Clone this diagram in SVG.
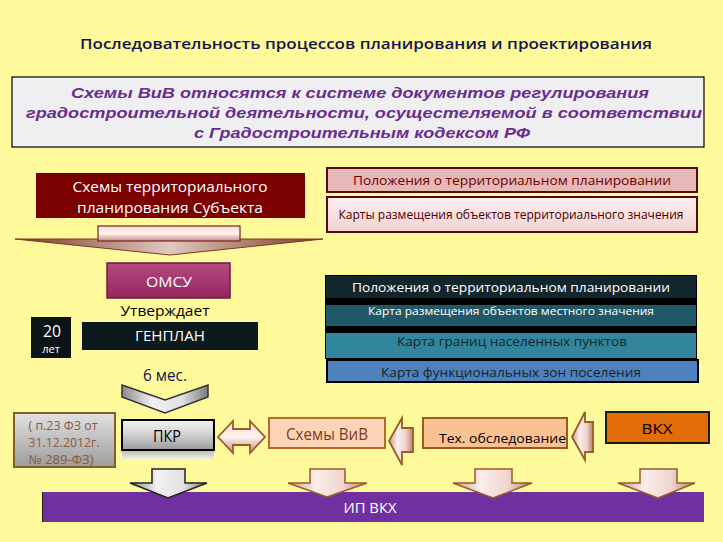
<svg xmlns="http://www.w3.org/2000/svg" width="723" height="542" viewBox="0 0 723 542">
<defs>
<style>
.t{font-family:"Open Sans","Noto Sans","Liberation Sans",sans-serif;}
.a{font-family:"Liberation Sans",Arial,sans-serif;}
.c{text-anchor:middle;}
.w{fill:#ffffff;}
</style>
<linearGradient id="gMetal" x1="0" y1="0" x2="0" y2="1">
<stop offset="0" stop-color="#f4f4f4"/><stop offset="0.5" stop-color="#d0d0d0"/><stop offset="1" stop-color="#9a9a9a"/>
</linearGradient>
<linearGradient id="gMetalH" x1="0" y1="0" x2="1" y2="0">
<stop offset="0" stop-color="#8a8a8a"/><stop offset="0.35" stop-color="#f2f2f2"/><stop offset="0.7" stop-color="#e0e0e0"/><stop offset="1" stop-color="#7a7a7a"/>
</linearGradient>
<linearGradient id="gPeach" x1="0" y1="0" x2="1" y2="0">
<stop offset="0" stop-color="#c99a88"/><stop offset="0.35" stop-color="#fbeeec"/><stop offset="0.7" stop-color="#efd4cc"/><stop offset="1" stop-color="#b88070"/>
</linearGradient>
<linearGradient id="gPeachV" x1="0" y1="0" x2="0" y2="1">
<stop offset="0" stop-color="#f6dcd4"/><stop offset="0.5" stop-color="#fdf3f1"/><stop offset="1" stop-color="#c88f80"/>
</linearGradient>
<linearGradient id="gHead" x1="0" y1="0" x2="1" y2="0">
<stop offset="0" stop-color="#7a3a20"/><stop offset="0.5" stop-color="#e0c8c0"/><stop offset="1" stop-color="#7a3a20"/>
</linearGradient>
<linearGradient id="gRef" x1="0" y1="0" x2="0" y2="1">
<stop offset="0" stop-color="#e2e2e2"/><stop offset="1" stop-color="#9c9c9c"/>
</linearGradient>
<linearGradient id="gOmsu" x1="0" y1="0" x2="0" y2="1">
<stop offset="0" stop-color="#b54a80"/><stop offset="1" stop-color="#94285e"/>
</linearGradient>
<linearGradient id="gPinkB" x1="0" y1="0" x2="0" y2="1">
<stop offset="0" stop-color="#fdf0f0"/><stop offset="1" stop-color="#f2d2d2"/>
</linearGradient>
<linearGradient id="gReflect" x1="0" y1="0" x2="0" y2="1">
<stop offset="0" stop-color="#bdbdbd"/><stop offset="1" stop-color="#f0f0e0"/>
</linearGradient>
</defs>

<rect x="0" y="0" width="723" height="542" fill="#fef99b"/>

<g id="title">
<text class="t c" x="366" y="49" font-size="15" font-weight="600" fill="#14144e" textLength="572" lengthAdjust="spacingAndGlyphs">Последовательность процессов планирования и проектирования</text>
</g>

<g id="intro">
<rect x="12" y="77" width="692" height="70" fill="#efeff1" stroke="#000" stroke-width="1.2"/>
<g class="a c" font-size="15.5" font-weight="bold" font-style="italic" fill="#6a2d8e">
<text x="360" y="98" textLength="578" lengthAdjust="spacingAndGlyphs">Схемы ВиВ относятся к системе  документов регулирования</text>
<text x="364" y="118" textLength="676" lengthAdjust="spacingAndGlyphs">градостроительной деятельности,  осущестеляемой в соответствии</text>
<text x="362" y="138" textLength="336" lengthAdjust="spacingAndGlyphs">с Градостроительным кодексом РФ</text>
</g>
</g>

<g id="subject">
<rect x="36" y="173" width="269" height="45" fill="#7b0000"/>
<text class="t c w" x="170" y="192" font-size="15" textLength="195" lengthAdjust="spacingAndGlyphs">Схемы территориального</text>
<text class="t c w" x="170" y="213" font-size="15" textLength="186" lengthAdjust="spacingAndGlyphs">планирования Субъекта</text>
</g>

<g id="omsu">
<rect x="107" y="263" width="123" height="35" fill="url(#gOmsu)" stroke="#6e1a44" stroke-width="1.5"/>
<text class="t c w" x="169" y="287" font-size="15" textLength="46" lengthAdjust="spacingAndGlyphs">ОМСУ</text>
</g>

<g id="approves">
<text class="t c" x="165" y="316" font-size="14.5" fill="#000" textLength="89" lengthAdjust="spacingAndGlyphs">Утверждает</text>
</g>

<g id="years">
<rect x="31" y="317" width="40" height="41" fill="#0c1418"/>
<text class="t c w" x="52" y="337" font-size="15.5" textLength="18" lengthAdjust="spacingAndGlyphs">20</text>
<text class="t c w" x="51" y="353" font-size="11">лет</text>
</g>

<g id="genplan">
<rect x="82" y="322" width="176" height="28" fill="#0c1a1e"/>
<text class="t c w" x="170" y="341" font-size="15" textLength="70" lengthAdjust="spacingAndGlyphs">ГЕНПЛАН</text>
</g>

<g id="six-months">
<text class="t c" x="165" y="381" font-size="15.5" fill="#14144e" textLength="44" lengthAdjust="spacingAndGlyphs">6 мес.</text>
</g>

<g id="law-ref">
<rect x="14" y="413" width="101" height="54" fill="url(#gRef)" stroke="#8b5a2b" stroke-width="2"/>
<g class="t c" font-size="12.5" fill="#8b5a40">
<text x="63" y="430" textLength="69" lengthAdjust="spacingAndGlyphs">( п.23 ФЗ от</text>
<text x="64" y="447" textLength="71" lengthAdjust="spacingAndGlyphs">31.12.2012г.</text>
<text x="61" y="464" textLength="65" lengthAdjust="spacingAndGlyphs">№ 289-ФЗ)</text>
</g>
</g>

<g id="pkr">
<rect x="122" y="451" width="92" height="8" fill="url(#gReflect)"/>
<rect x="122" y="420" width="92" height="30" fill="url(#gMetal)" stroke="#000" stroke-width="2"/>
<text class="t c" x="167" y="442" font-size="15.5" fill="#000" textLength="28" lengthAdjust="spacingAndGlyphs">ПКР</text>
</g>

<g id="schemes-viv">
<rect x="269" y="418" width="116" height="30" fill="#fcd5b8" stroke="#b8682a" stroke-width="2"/>
<text class="t c" x="327" y="440" font-size="15.5" fill="#7f3a1a" textLength="82" lengthAdjust="spacingAndGlyphs">Схемы ВиВ</text>
</g>

<g id="tech-survey">
<rect x="423" y="418" width="144" height="30" fill="#fac193" stroke="#9a5a20" stroke-width="2"/>
<text class="t" x="439" y="443" font-size="13" fill="#000" textLength="127" lengthAdjust="spacingAndGlyphs">Тех. обследование</text>
</g>

<g id="vkh">
<rect x="606" y="412" width="103" height="31" fill="#e36c0a" stroke="#1a1a1a" stroke-width="2"/>
<text class="t c" x="657" y="434" font-size="14.5" fill="#000" textLength="31" lengthAdjust="spacingAndGlyphs">ВКХ</text>
</g>

<g id="terr-provisions">
<rect x="327" y="168" width="370" height="24" fill="#e6b8b7" stroke="#5a0a0a" stroke-width="2"/>
<text class="t c" x="512" y="185" font-size="13.5" fill="#6e0000" textLength="318" lengthAdjust="spacingAndGlyphs">Положения о территориальном планировании</text>
</g>

<g id="terr-maps">
<rect x="327" y="197" width="370" height="35" fill="url(#gPinkB)" stroke="#5a0a0a" stroke-width="2"/>
<text class="t c" x="511" y="219" font-size="12.5" fill="#4a0000" textLength="345" lengthAdjust="spacingAndGlyphs">Карты размещения объектов территориального значения</text>
</g>

<g id="local-block">
<rect x="325" y="275" width="372" height="84" fill="#000"/>
<rect x="326" y="276" width="370" height="22" fill="#14262d"/>
<text class="t c w" x="511" y="292" font-size="13.5" textLength="318" lengthAdjust="spacingAndGlyphs">Положения о территориальном планировании</text>
<rect x="326" y="305" width="370" height="21" fill="#215868"/>
<text class="t c w" x="511" y="315" font-size="11.5" textLength="286" lengthAdjust="spacingAndGlyphs">Карта размещения объектов местного значения</text>
<rect x="326" y="333" width="370" height="25" fill="#31859c"/>
<text class="t c" x="512" y="346" font-size="13.5" fill="#13262c" textLength="230" lengthAdjust="spacingAndGlyphs">Карта границ населенных пунктов</text>
</g>

<g id="zones-map">
<rect x="327" y="360" width="371" height="22" fill="#4f81bd" stroke="#000" stroke-width="2"/>
<text class="t c" x="511" y="377" font-size="13.5" fill="#13262c" textLength="260" lengthAdjust="spacingAndGlyphs">Карта функциональных зон поселения</text>
</g>

<g id="ip-vkh">
<rect x="42" y="492" width="662" height="30" fill="#7030a0"/>
<line x1="42.5" y1="492" x2="42.5" y2="522" stroke="#222" stroke-width="1"/>
<text class="t c w" x="370" y="513" font-size="14.5" textLength="53" lengthAdjust="spacingAndGlyphs">ИП ВКХ</text>
</g>

<g id="connectors">
<polygon points="15,239 323,239 170,255" fill="url(#gHead)" stroke="#7a3a20" stroke-width="1"/>
<rect x="98" y="226" width="142" height="15" fill="url(#gPeachV)" stroke="#7b2020" stroke-width="1.2"/>

<polygon points="122,385 165,400 208,385 208,397 165,413 122,397" fill="url(#gMetalH)" stroke="#333" stroke-width="1.5"/>

<polygon points="218,437 233,421 233,429 250,429 250,421 265,437 250,453 250,445 233,445 233,453" fill="url(#gPeachV)" stroke="#9a5a2a" stroke-width="1.8"/>
<polygon points="389,441 402,418 402,428 413,428 413,452 402,452 402,465" fill="url(#gPeach)" stroke="#9a5a2a" stroke-width="1.8"/>
<polygon points="572,437 585,412 585,422 593,422 593,452 585,452 585,460" fill="url(#gPeach)" stroke="#9a5a2a" stroke-width="1.8"/>

<polygon points="152,469 185,469 185,483 207,483 168,498 130,483 152,483" fill="url(#gMetalH)" stroke="#222" stroke-width="1.5"/>
<polygon points="310,469 345,469 345,483 367,483 327,497 288,483 310,483" fill="url(#gPeach)" stroke="#9a5a2a" stroke-width="1.5"/>
<polygon points="475,469 512,469 512,483 532,483 493,498 453,483 475,483" fill="url(#gPeach)" stroke="#9a5a2a" stroke-width="1.5"/>
<polygon points="640,469 677,469 677,483 695,483 658,498 618,483 640,483" fill="url(#gPeach)" stroke="#9a5a2a" stroke-width="1.5"/>
</g>
</svg>
